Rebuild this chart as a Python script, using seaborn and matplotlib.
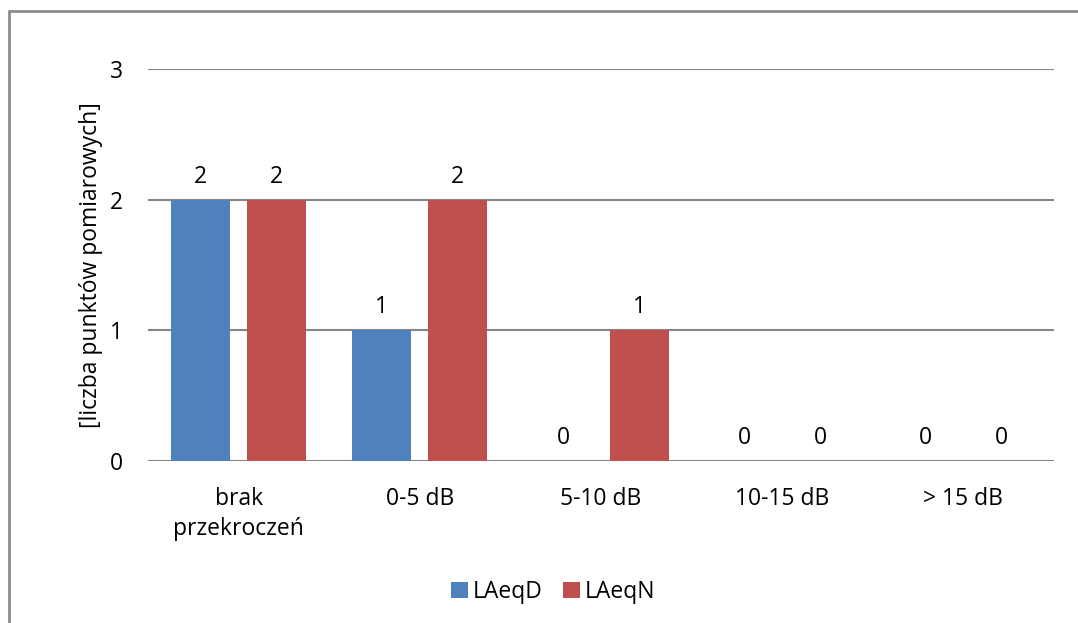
import pandas as pd
import numpy as np
import matplotlib.pyplot as plt
import seaborn as sns
from matplotlib.patches import Rectangle

# dane: liczba punktów pomiarowych wg przekroczenia
kategorie = ['brak\nprzekroczeń', '0-5 dB', '5-10 dB', '10-15 dB', '> 15 dB']
laeqd = [2, 1, 0, 0, 0]
laeqn = [2, 2, 1, 0, 0]
serie = ['LAeqD', 'LAeqN']
kolory = ['#4F81BD', '#C0504D']

df = pd.DataFrame({
    'kategoria': kategorie * 2,
    'wartosc': laeqd + laeqn,
    'seria': [serie[0]] * len(kategorie) + [serie[1]] * len(kategorie),
})

sns.set_style('white', {'text.color': 'black', 'axes.labelcolor': 'black',
                        'xtick.color': 'black', 'ytick.color': 'black'})
plt.rcParams['font.family'] = ['Open Sans', 'DejaVu Sans']
fs = 16.5

fig = plt.figure(figsize=(10.78, 6.23), dpi=100)
ax = fig.add_axes([148 / 1078, 1 - 461 / 623, (1054 - 148) / 1078, (461 - 69) / 623])

sns.barplot(data=df, x='kategoria', y='wartosc', hue='seria', order=kategorie,
            hue_order=serie, palette=kolory, width=0.84, gap=0.224,
            saturation=1, linewidth=0, ax=ax, legend=True)

for c in ax.containers:
    ax.bar_label(c, labels=[f'{v:.0f}' for v in c.datavalues], padding=8,
                 fontsize=fs, color='black')

ax.set_ylim(0, 3)
ax.set_xlim(-0.5, len(kategorie) - 0.5)
ax.set_yticks([0, 1, 2, 3])
ax.yaxis.grid(True, color='#868686', linewidth=1.5)
ax.set_axisbelow(True)
for s in ax.spines.values():
    s.set_visible(False)
ax.tick_params(axis='y', length=0, pad=18, labelsize=fs, labelcolor='black')
ax.tick_params(axis='x', length=0, pad=19, labelsize=fs, labelcolor='black')
for t in ax.get_xticklabels():
    t.set_linespacing(1.3)
ax.set_xlabel('')
ax.set_ylabel('[liczba punktów pomiarowych]', fontsize=fs, labelpad=5, color='black')

leg = ax.legend(loc='center', bbox_to_anchor=(0.447, (592 - 461) / -392), ncol=2,
                frameon=False, fontsize=fs, handlelength=0.75, handleheight=0.75,
                handletextpad=0.2, columnspacing=0.9)
for t in leg.get_texts():
    t.set_color('black')

# ramka obszaru wykresu
fig.patches.append(Rectangle((9 / 1078, -5 / 623), 1.05, 1 - 6 / 623, fill=False,
                             edgecolor='#8C8C8C', linewidth=2, transform=fig.transFigure,
                             figure=fig))

fig.savefig('out.png', dpi=100)
